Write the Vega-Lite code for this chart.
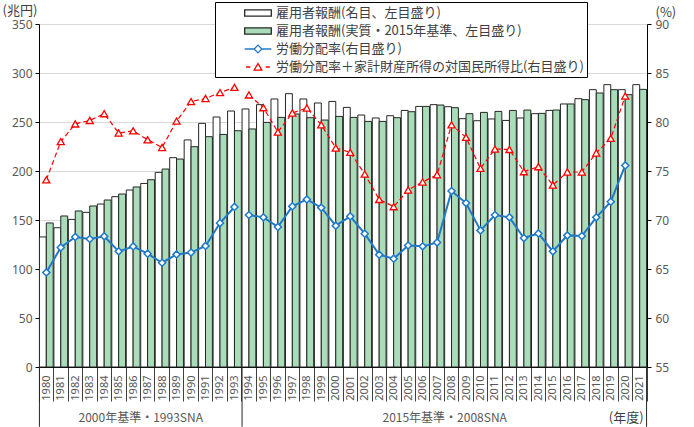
{
  "$schema": "https://vega.github.io/schema/vega-lite/v6.json",
  "width": 608,
  "height": 343,
  "autosize": {"type": "none"},
  "padding": {"left": 39, "top": 24, "right": 47, "bottom": 60},
  "background": "white",
  "config": {
    "font": "Noto Sans CJK JP",
    "view": {"stroke": null},
    "legend": {
      "orient": "none", "legendX": 176, "legendY": -22,
      "strokeColor": "#000000", "fillColor": "#ffffff",
      "padding": 3, "labelFontSize": 13, "labelColor": "#404040", "labelLimit": 600,
      "symbolSize": 196, "symbolOffset": 32, "labelOffset": 10, "rowPadding": 3, "symbolStrokeWidth": 1.3
    }
  },
  "datasets": {
    "main": [
      {"year": 1980, "nominal": 132.7, "real": 147.0, "share": 64.65, "plus": 74.1, "period": "old"},
      {"year": 1981, "nominal": 142.1, "real": 154.1, "share": 67.2, "plus": 78.0, "period": "old"},
      {"year": 1982, "nominal": 150.6, "real": 159.2, "share": 68.27, "plus": 79.8, "period": "old"},
      {"year": 1983, "nominal": 157.8, "real": 164.3, "share": 68.06, "plus": 80.16, "period": "old"},
      {"year": 1984, "nominal": 166.3, "real": 170.4, "share": 68.33, "plus": 80.85, "period": "old"},
      {"year": 1985, "nominal": 173.8, "real": 176.5, "share": 66.8, "plus": 78.88, "period": "old"},
      {"year": 1986, "nominal": 180.6, "real": 183.7, "share": 67.3, "plus": 79.1, "period": "old"},
      {"year": 1987, "nominal": 187.3, "real": 191.1, "share": 66.56, "plus": 78.19, "period": "old"},
      {"year": 1988, "nominal": 198.6, "real": 202.0, "share": 65.64, "plus": 77.4, "period": "old"},
      {"year": 1989, "nominal": 213.6, "real": 212.2, "share": 66.49, "plus": 80.1, "period": "old"},
      {"year": 1990, "nominal": 231.7, "real": 224.8, "share": 66.68, "plus": 82.08, "period": "old"},
      {"year": 1991, "nominal": 248.6, "real": 235.0, "share": 67.35, "plus": 82.4, "period": "old"},
      {"year": 1992, "nominal": 255.1, "real": 237.3, "share": 69.69, "plus": 83.0, "period": "old"},
      {"year": 1993, "nominal": 261.2, "real": 241.1, "share": 71.33, "plus": 83.53, "period": "old"},
      {"year": 1994, "nominal": 263.3, "real": 242.9, "share": 70.51, "plus": 82.76, "period": "new"},
      {"year": 1995, "nominal": 267.7, "real": 249.6, "share": 70.27, "plus": 81.46, "period": "new"},
      {"year": 1996, "nominal": 273.5, "real": 254.7, "share": 69.29, "plus": 78.98, "period": "new"},
      {"year": 1997, "nominal": 278.9, "real": 258.2, "share": 71.39, "plus": 80.92, "period": "new"},
      {"year": 1998, "nominal": 273.5, "real": 254.4, "share": 72.1, "plus": 81.43, "period": "new"},
      {"year": 1999, "nominal": 269.4, "real": 252.0, "share": 71.26, "plus": 79.72, "period": "new"},
      {"year": 2000, "nominal": 271.0, "real": 255.7, "share": 69.42, "plus": 77.35, "period": "new"},
      {"year": 2001, "nominal": 264.9, "real": 254.7, "share": 70.37, "plus": 76.9, "period": "new"},
      {"year": 2002, "nominal": 257.1, "real": 250.6, "share": 68.6, "plus": 74.69, "period": "new"},
      {"year": 2003, "nominal": 254.1, "real": 250.6, "share": 66.46, "plus": 72.1, "period": "new"},
      {"year": 2004, "nominal": 256.4, "real": 254.4, "share": 66.05, "plus": 71.36, "period": "new"},
      {"year": 2005, "nominal": 261.8, "real": 260.5, "share": 67.4, "plus": 73.06, "period": "new"},
      {"year": 2006, "nominal": 265.9, "real": 265.9, "share": 67.31, "plus": 73.88, "period": "new"},
      {"year": 2007, "nominal": 267.7, "real": 267.3, "share": 67.71, "plus": 74.62, "period": "new"},
      {"year": 2008, "nominal": 265.6, "real": 264.6, "share": 72.96, "plus": 79.72, "period": "new"},
      {"year": 2009, "nominal": 253.4, "real": 258.5, "share": 71.73, "plus": 78.43, "period": "new"},
      {"year": 2010, "nominal": 251.3, "real": 259.8, "share": 68.94, "plus": 75.27, "period": "new"},
      {"year": 2011, "nominal": 253.1, "real": 260.8, "share": 70.51, "plus": 77.24, "period": "new"},
      {"year": 2012, "nominal": 251.6, "real": 261.8, "share": 70.27, "plus": 77.2, "period": "new"},
      {"year": 2013, "nominal": 254.1, "real": 262.2, "share": 68.16, "plus": 74.93, "period": "new"},
      {"year": 2014, "nominal": 258.5, "real": 258.8, "share": 68.63, "plus": 75.44, "period": "new"},
      {"year": 2015, "nominal": 261.8, "real": 262.2, "share": 66.8, "plus": 73.57, "period": "new"},
      {"year": 2016, "nominal": 268.4, "real": 268.4, "share": 68.43, "plus": 74.9, "period": "new"},
      {"year": 2017, "nominal": 273.8, "real": 272.8, "share": 68.36, "plus": 74.9, "period": "new"},
      {"year": 2018, "nominal": 283.0, "real": 279.6, "share": 70.27, "plus": 76.84, "period": "new"},
      {"year": 2019, "nominal": 288.1, "real": 283.0, "share": 71.87, "plus": 78.33, "period": "new"},
      {"year": 2020, "nominal": 283.0, "real": 277.9, "share": 75.57, "plus": 82.65, "period": "new"},
      {"year": 2021, "nominal": 288.1, "real": 283.3, "share": null, "plus": null, "period": "new"}
    ]
  },
  "layer": [
    {
      "layer": [
        {
          "data": {"name": "main"},
          "transform": [{"fold": ["nominal", "real"], "as": ["series", "value"]}],
          "mark": {"type": "bar", "stroke": "#262626", "strokeWidth": 1},
          "encoding": {
            "x": {
              "field": "year", "type": "ordinal",
              "scale": {"paddingInner": 0.05, "paddingOuter": 0.03},
              "axis": {
                "title": null, "labelAngle": 270, "labelFontSize": 11, "labelColor": "#595959",
                "labelPadding": -26, "tickBand": "extent", "tickSize": 34, "tickColor": "#404040",
                "domainColor": "#000000", "labelAlign": "right", "labelBaseline": "middle",
                "labelFont": "Noto Sans"
              }
            },
            "xOffset": {"field": "series", "scale": {"domain": ["nominal", "real"], "paddingInner": 0, "paddingOuter": 0}},
            "y": {
              "field": "value", "type": "quantitative",
              "scale": {"domain": [0, 350], "nice": false},
              "axis": {
                "orient": "left", "values": [0, 50, 100, 150, 200, 250, 300, 350],
                "grid": true, "gridColor": "#d9d9d9", "domainColor": "#000000", "tickColor": "#000000",
                "tickSize": 4, "labelColor": "#595959", "labelFontSize": 12, "labelPadding": 3,
                "labelFont": "Noto Sans",
                "title": "(兆円)", "titleAngle": 0, "titleX": -37, "titleY": -14,
                "titleAlign": "left", "titleBaseline": "middle", "titleFontWeight": "normal",
                "titleFontSize": 13, "titleColor": "#404040"
              }
            },
            "fill": {
              "field": "series", "type": "nominal",
              "scale": {"domain": ["nominal", "real", "share", "plus"], "range": ["#ffffff", "#a9dcb9", "#ffffff", "#ffffff"]},
              "legend": {
                "title": null,
                "labelExpr": "{'nominal': '雇用者報酬(名目、左目盛り)', 'real': '雇用者報酬(実質・2015年基準、左目盛り)', 'share': '労働分配率(右目盛り)', 'plus': '労働分配率＋家計財産所得の対国民所得比(右目盛り)'}[datum.value]"
              }
            }
          }
        },
        {
          "data": {"values": [{"series": "nominal"}, {"series": "real"}, {"series": "share"}, {"series": "plus"}]},
          "transform": [{"filter": "datum.series == 'none'"}],
          "mark": {"type": "point", "filled": true, "strokeWidth": 1.3},
          "encoding": {
            "fill": {
              "field": "series", "type": "nominal",
              "scale": {"domain": ["nominal", "real", "share", "plus"], "range": ["#ffffff", "#a9dcb9", "#ffffff", "#ffffff"]},
              "legend": {
                "title": null,
                "labelExpr": "{'nominal': '雇用者報酬(名目、左目盛り)', 'real': '雇用者報酬(実質・2015年基準、左目盛り)', 'share': '労働分配率(右目盛り)', 'plus': '労働分配率＋家計財産所得の対国民所得比(右目盛り)'}[datum.value]"
              }
            },
            "stroke": {
              "field": "series", "type": "nominal",
              "scale": {"domain": ["nominal", "real", "share", "plus"], "range": ["#262626", "#262626", "#2079c7", "#ff0000"]},
              "legend": {
                "title": null,
                "labelExpr": "{'nominal': '雇用者報酬(名目、左目盛り)', 'real': '雇用者報酬(実質・2015年基準、左目盛り)', 'share': '労働分配率(右目盛り)', 'plus': '労働分配率＋家計財産所得の対国民所得比(右目盛り)'}[datum.value]"
              }
            },
            "shape": {
              "field": "series", "type": "nominal",
              "scale": {"domain": ["nominal", "real", "share", "plus"], "range": ["M-1.9,-0.45H1.9V0.45H-1.9Z", "M-1.9,-0.45H1.9V0.45H-1.9Z", "M-1.9,0H-0.55M0.55,0H1.9M-0.55,0L0,-0.55L0.55,0L0,0.55Z", "M-1.7,0H-1.1M1.1,0H1.7M-0.55,0.45L0,-0.5L0.55,0.45Z"]},
              "legend": {
                "title": null,
                "labelExpr": "{'nominal': '雇用者報酬(名目、左目盛り)', 'real': '雇用者報酬(実質・2015年基準、左目盛り)', 'share': '労働分配率(右目盛り)', 'plus': '労働分配率＋家計財産所得の対国民所得比(右目盛り)'}[datum.value]"
              }
            }
          }
        },
        {
          "data": {"values": [{"year": 1980}, {"year": 1994}]},
          "mark": {"type": "rule", "color": "#262626", "strokeWidth": 1, "clip": false},
          "encoding": {
            "x": {"field": "year", "type": "ordinal", "bandPosition": 0},
            "y": {"datum": 0, "type": "quantitative"},
            "y2": {"datum": -61}
          }
        },
        {
          "data": {"values": [{"year": 2021}]},
          "mark": {"type": "rule", "color": "#262626", "strokeWidth": 1, "clip": false},
          "encoding": {
            "x": {"field": "year", "type": "ordinal", "bandPosition": 1},
            "y": {"datum": 0, "type": "quantitative"},
            "y2": {"datum": -61}
          }
        },
        {
          "data": {"values": [{"year": 1987, "label": "2000年基準・1993SNA"}, {"year": 2008, "label": "2015年基準・2008SNA"}]},
          "mark": {"type": "text", "dy": 51, "fontSize": 12, "color": "#595959", "align": "center", "baseline": "middle"},
          "encoding": {
            "x": {"field": "year", "type": "ordinal", "bandPosition": 0},
            "y": {"datum": 0, "type": "quantitative"},
            "text": {"field": "label"}
          }
        },
        {
          "data": {"values": [{"year": 2021, "label": "(年度)"}]},
          "mark": {"type": "text", "dy": 51, "dx": -3, "fontSize": 13, "color": "#404040", "align": "right", "baseline": "middle"},
          "encoding": {
            "x": {"field": "year", "type": "ordinal", "bandPosition": 1},
            "y": {"datum": 0, "type": "quantitative"},
            "text": {"field": "label"}
          }
        }
      ]
    },
    {
      "data": {"name": "main"},
      "transform": [{"filter": "datum.share != null"}],
      "layer": [
        {
          "mark": {"type": "line", "color": "#2079c7", "strokeWidth": 2},
          "encoding": {
            "x": {"field": "year", "type": "ordinal"},
            "y": {
              "field": "share", "type": "quantitative",
              "scale": {"domain": [55, 90], "nice": false},
              "axis": {
                "orient": "right", "values": [55, 60, 65, 70, 75, 80, 85, 90],
                "grid": false, "domainColor": "#000000", "tickColor": "#000000",
                "tickSize": 4, "labelColor": "#595959", "labelFontSize": 12, "labelPadding": 4,
                "labelFont": "Noto Sans",
                "title": "(%)", "titleAngle": 0, "titleX": 8, "titleY": -12,
                "titleAlign": "left", "titleBaseline": "middle", "titleFontWeight": "normal",
                "titleFontSize": 13, "titleColor": "#404040"
              }
            },
            "detail": {"field": "period"}
          }
        },
        {
          "mark": {"type": "line", "color": "#ff0000", "strokeWidth": 1.2, "strokeDash": [5, 3]},
          "encoding": {
            "x": {"field": "year", "type": "ordinal"},
            "y": {"field": "plus", "type": "quantitative"},
            "detail": {"field": "period"}
          }
        },
        {
          "mark": {"type": "point", "shape": "diamond", "filled": true, "fill": "#ffffff", "stroke": "#2079c7", "strokeWidth": 1.5, "size": 50, "opacity": 1},
          "encoding": {
            "x": {"field": "year", "type": "ordinal"},
            "y": {"field": "share", "type": "quantitative"}
          }
        },
        {
          "mark": {"type": "point", "shape": "triangle-up", "filled": true, "fill": "#ffffff", "stroke": "#ff0000", "strokeWidth": 1.3, "size": 50, "opacity": 1},
          "encoding": {
            "x": {"field": "year", "type": "ordinal"},
            "y": {"field": "plus", "type": "quantitative"}
          }
        }
      ]
    }
  ],
  "resolve": {"scale": {"y": "independent"}}
}
